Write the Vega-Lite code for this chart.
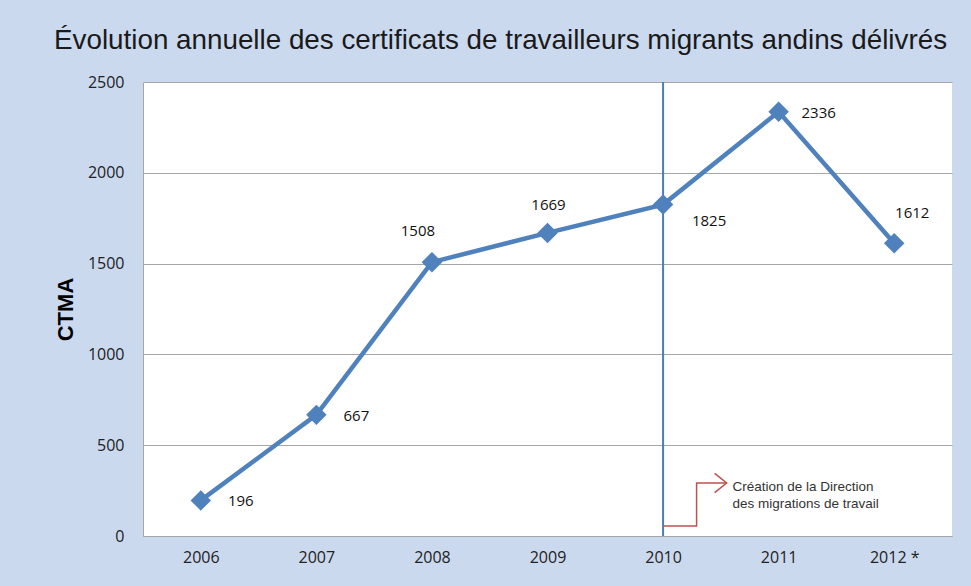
{
  "$schema": "https://vega.github.io/schema/vega-lite/v6.json",
  "width": 809,
  "height": 454,
  "autosize": {"type": "none"},
  "padding": {"left": 143, "top": 82, "right": 19, "bottom": 50},
  "background": "#cbd9ef",
  "view": {"fill": "white", "stroke": null},
  "title": {
    "text": "Évolution annuelle des certificats de travailleurs migrants andins délivrés",
    "font": "Liberation Sans",
    "fontSize": 27.8,
    "fontWeight": "normal",
    "color": "#1a1a1a",
    "anchor": "middle",
    "frame": "group",
    "dx": -47,
    "baseline": "alphabetic",
    "offset": -3
  },
  "datasets": {
    "main": [
      {"year": 2006, "value": 196},
      {"year": 2007, "value": 667},
      {"year": 2008, "value": 1508},
      {"year": 2009, "value": 1669},
      {"year": 2010, "value": 1825},
      {"year": 2011, "value": 2336},
      {"year": 2012, "value": 1612}
    ],
    "marker": [{"year": 2010}],
    "arrow": [
      {"i": 1, "x": 2010.0, "y": 55},
      {"i": 2, "x": 2010.29, "y": 55},
      {"i": 3, "x": 2010.29, "y": 292},
      {"i": 4, "x": 2010.55, "y": 292}
    ],
    "arrowhead": [{"x": 2010.55, "y": 292}],
    "note": [{"x": 2010.6, "y": 248, "text": "Création de la Direction\ndes migrations de travail"}]
  },
  "layer": [
    {
      "data": {"name": "marker"},
      "mark": {"type": "rule", "color": "#4a7ebb", "strokeWidth": 2},
      "encoding": {
        "x": {"field": "year", "type": "quantitative", "scale": {"domain": [2005.5, 2012.5], "nice": false, "zero": false}}
      }
    },
    {
      "data": {"name": "arrow"},
      "mark": {"type": "line", "color": "#c0504d", "strokeWidth": 1.5},
      "encoding": {
        "x": {"field": "x", "type": "quantitative"},
        "y": {"field": "y", "type": "quantitative"},
        "order": {"field": "i"}
      }
    },
    {
      "data": {"name": "arrowhead"},
      "mark": {"type": "point", "shape": "M-1,-0.8L0,0L-1,0.8", "filled": false, "stroke": "#c0504d", "strokeWidth": 1.5, "size": 576, "opacity": 1},
      "encoding": {
        "x": {"field": "x", "type": "quantitative"},
        "y": {"field": "y", "type": "quantitative"}
      }
    },
    {
      "data": {"name": "note"},
      "mark": {"type": "text", "align": "left", "baseline": "alphabetic", "font": "Liberation Sans", "fontSize": 13.5, "lineHeight": 17, "lineBreak": "\n", "color": "#333333"},
      "encoding": {
        "x": {"field": "x", "type": "quantitative"},
        "y": {"field": "y", "type": "quantitative"},
        "text": {"field": "text"}
      }
    },
    {
      "data": {"name": "main"},
      "mark": {"type": "line", "color": "#4f81bd", "strokeWidth": 4.5},
      "encoding": {
        "x": {
          "field": "year", "type": "quantitative",
          "axis": {
            "values": [2006, 2007, 2008, 2009, 2010, 2011, 2012],
            "labelExpr": "datum.value == 2012 ? '2012 *' : format(datum.value, 'd')",
            "grid": false, "ticks": false, "tickSize": 0,
            "domain": true, "domainColor": "#a6a6a6", "domainWidth": 1,
            "labelFont": "Open Sans", "labelFontSize": 16, "labelColor": "#222222",
            "labelPadding": 13, "labelBaseline": "top", "title": null
          }
        },
        "y": {
          "field": "value", "type": "quantitative",
          "scale": {"domain": [0, 2500], "nice": false},
          "axis": {
            "values": [0, 500, 1000, 1500, 2000, 2500],
            "format": "d",
            "grid": true, "gridColor": "#a6a6a6", "gridWidth": 1,
            "ticks": false, "tickSize": 0,
            "domain": true, "domainColor": "#a6a6a6", "domainWidth": 1,
            "labelFont": "Open Sans", "labelFontSize": 16, "labelColor": "#222222",
            "labelPadding": 19,
            "title": "CTMA", "titleFont": "Liberation Sans", "titleFontSize": 22,
            "titleFontWeight": "bold", "titleColor": "#000000",
            "titleAngle": -90, "titleX": -71, "titleY": 227,
            "titleAlign": "center", "titleBaseline": "alphabetic"
          }
        }
      }
    },
    {
      "data": {"name": "main"},
      "mark": {"type": "point", "shape": "diamond", "filled": true, "color": "#4f81bd", "size": 420, "opacity": 1},
      "encoding": {
        "x": {"field": "year", "type": "quantitative"},
        "y": {"field": "value", "type": "quantitative"}
      }
    },
    {
      "data": {"name": "main"},
      "transform": [{"filter": "datum.year == 2006 || datum.year == 2007 || datum.year == 2011"}],
      "mark": {"type": "text", "font": "Open Sans", "fontSize": 15, "color": "#111111", "dx": 40, "dy": 1},
      "encoding": {
        "x": {"field": "year", "type": "quantitative"},
        "y": {"field": "value", "type": "quantitative"},
        "text": {"field": "value", "type": "quantitative", "format": "d"}
      }
    },
    {
      "data": {"name": "main"},
      "transform": [{"filter": "datum.year == 2008"}],
      "mark": {"type": "text", "font": "Open Sans", "fontSize": 15, "color": "#111111", "dx": -14, "dy": -31},
      "encoding": {
        "x": {"field": "year", "type": "quantitative"},
        "y": {"field": "value", "type": "quantitative"},
        "text": {"field": "value", "type": "quantitative", "format": "d"}
      }
    },
    {
      "data": {"name": "main"},
      "transform": [{"filter": "datum.year == 2009"}],
      "mark": {"type": "text", "font": "Open Sans", "fontSize": 15, "color": "#111111", "dx": 1, "dy": -28},
      "encoding": {
        "x": {"field": "year", "type": "quantitative"},
        "y": {"field": "value", "type": "quantitative"},
        "text": {"field": "value", "type": "quantitative", "format": "d"}
      }
    },
    {
      "data": {"name": "main"},
      "transform": [{"filter": "datum.year == 2010"}],
      "mark": {"type": "text", "font": "Open Sans", "fontSize": 15, "color": "#111111", "dx": 46, "dy": 16},
      "encoding": {
        "x": {"field": "year", "type": "quantitative"},
        "y": {"field": "value", "type": "quantitative"},
        "text": {"field": "value", "type": "quantitative", "format": "d"}
      }
    },
    {
      "data": {"name": "main"},
      "transform": [{"filter": "datum.year == 2012"}],
      "mark": {"type": "text", "font": "Open Sans", "fontSize": 15, "color": "#111111", "dx": 18, "dy": -30},
      "encoding": {
        "x": {"field": "year", "type": "quantitative"},
        "y": {"field": "value", "type": "quantitative"},
        "text": {"field": "value", "type": "quantitative", "format": "d"}
      }
    }
  ]
}
